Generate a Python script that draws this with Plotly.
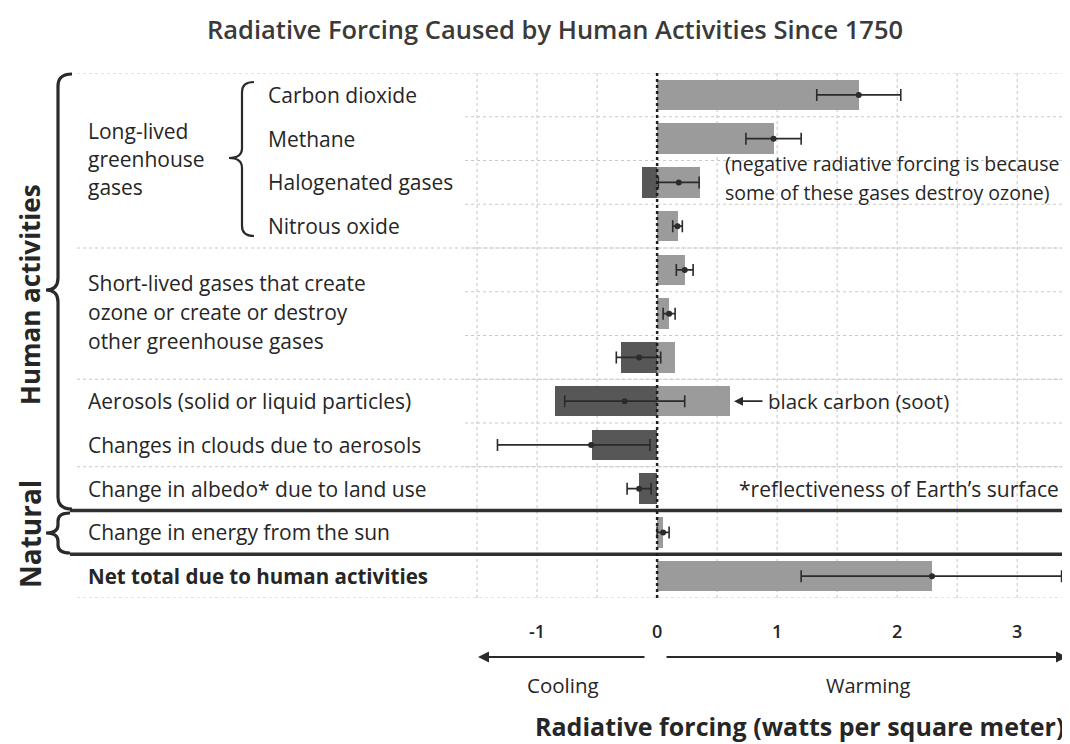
import plotly.graph_objects as go

# ---------------- data ----------------
row_names = ["Carbon dioxide", "Methane", "Halogenated gases", "Nitrous oxide",
             "Short-lived gases 1", "Short-lived gases 2", "Short-lived gases 3",
             "Aerosols (solid or liquid particles)", "Changes in clouds due to aerosols",
             "Change in albedo* due to land use", "Change in energy from the sun",
             "Net total due to human activities"]
warming_part = [1.68, 0.97, 0.36, 0.17, 0.23, 0.10, 0.15, 0.61, 0.0, 0.0, 0.05, 2.29]
cooling_part = [0.0, 0.0, -0.13, 0.0, 0.0, 0.0, -0.30, -0.85, -0.54, -0.15, 0.0, 0.0]
best_estimate = [1.68, 0.97, 0.18, 0.17, 0.23, 0.10, -0.15, -0.27, -0.55, -0.15, 0.05, 2.29]
range_low = [1.33, 0.74, 0.01, 0.13, 0.16, 0.05, -0.34, -0.77, -1.33, -0.25, 0.00, 1.20]
range_high = [2.03, 1.20, 0.35, 0.21, 0.30, 0.15, 0.03, 0.23, -0.06, -0.05, 0.10, 3.37]
tick_values = [-1, 0, 1, 2, 3]
tick_labels = ["-1", "0", "1", "2", "3"]
grid_values = [-1.5, -1.0, -0.5, 0.5, 1.0, 1.5, 2.0, 2.5, 3.0]

# ---------------- layout helpers ----------------
# page body has an 8px margin, so the figure is drawn 8px smaller
OFF = 8
SW, SH = 1070, 744            # screen size
W, H = SW - OFF, SH - OFF     # figure size
L, R, T, B = 75, 1070, 73, 598  # plot area in screen pixels
FONT = "Open Sans"
TXT = "#262626"
LS = 21   # label font size


def px(x):
    return (x - L) / (R - L)


def py(y):
    return (B - y) / (B - T)


rows = list(range(len(row_names)))
err_plus = [h - b for h, b in zip(range_high, best_estimate)]
err_minus = [b - l for l, b in zip(range_low, best_estimate)]

fig = go.Figure()
fig.add_trace(go.Bar(y=rows, x=warming_part, orientation="h", width=0.7,
                     marker=dict(color="#9b9b9b", line=dict(width=0)),
                     name="warming", showlegend=False))
fig.add_trace(go.Bar(y=rows, x=cooling_part, orientation="h", width=0.7,
                     marker=dict(color="#575757", line=dict(width=0)),
                     name="cooling", showlegend=False))
fig.add_trace(go.Scatter(y=rows, x=best_estimate, mode="markers",
                         marker=dict(color="#2b2b2b", size=6),
                         error_x=dict(type="data", symmetric=False, array=err_plus,
                                      arrayminus=err_minus, color="#2b2b2b",
                                      thickness=1.6, width=6),
                         showlegend=False))

shapes = []
for v in grid_values:
    shapes.append(dict(type="line", xref="x", yref="y", x0=v, x1=v, y0=-0.5, y1=11.5,
                       line=dict(color="#c4c4c4", width=1, dash="dot"), layer="below"))
for i in range(len(rows) - 1):
    if i + 0.5 in (9.5, 10.5):
        continue
    shapes.append(dict(type="line", xref="x", yref="y", x0=-1.6, x1=3.44, y0=i + 0.5, y1=i + 0.5,
                       line=dict(color="#c8c8c8", width=1, dash="dot"), layer="below"))
for yb in (-0.5, 3.5, 6.5, 8.5, 11.5):
    shapes.append(dict(type="line", xref="paper", yref="y", x0=px(77), x1=px(1070), y0=yb, y1=yb,
                       line=dict(color="#c8c8c8", width=1, dash="dot"), layer="below"))
for yb in (9.5, 10.5):
    shapes.append(dict(type="line", xref="paper", yref="y", x0=px(70), x1=px(1070), y0=yb, y1=yb,
                       line=dict(color="#303030", width=3.5), layer="above"))
shapes.append(dict(type="line", xref="x", yref="y", x0=0, x1=0, y0=-0.5, y1=11.65,
                   line=dict(color="#1e1e1e", width=2.5, dash="dot"), layer="above"))


def brace(x_end, x_v, x_pt, y_top, y_mid, y_bot, r=10):
    return (f"M {px(x_end)},{py(y_top)} Q {px(x_v)},{py(y_top)} {px(x_v)},{py(y_top + r)} "
            f"L {px(x_v)},{py(y_mid - r)} Q {px(x_v)},{py(y_mid)} {px(x_pt)},{py(y_mid)} "
            f"Q {px(x_v)},{py(y_mid)} {px(x_v)},{py(y_mid + r)} "
            f"L {px(x_v)},{py(y_bot - r)} Q {px(x_v)},{py(y_bot)} {px(x_end)},{py(y_bot)}")


shapes.append(dict(type="path", xref="paper", yref="paper",
                   path=brace(72, 58, 46, 74, 290, 509, r=12),
                   line=dict(color="#2a2a2a", width=3.2)))
shapes.append(dict(type="path", xref="paper", yref="paper",
                   path=brace(70, 58, 46, 513, 533, 553, r=8),
                   line=dict(color="#2a2a2a", width=3.2)))
shapes.append(dict(type="path", xref="paper", yref="paper",
                   path=brace(254, 242, 229, 82, 158, 236, r=10),
                   line=dict(color="#2a2a2a", width=2.2)))

ann = []


def label(text, x, yrow, yshift=0, size=LS, bold=False, anchor="left"):
    ann.append(dict(text=f"<b>{text}</b>" if bold else text, xref="paper", yref="y",
                    x=px(x), y=yrow, yshift=yshift, xanchor=anchor, yanchor="middle",
                    showarrow=False, font=dict(family=FONT, size=size, color=TXT)))


for i in range(4):
    label(row_names[i], 266, rows[i])
for j, t in enumerate(["Long-lived", "greenhouse", "gases"]):
    label(t, 86, 1.5, yshift=30 - 28 * j)
for j, t in enumerate(["Short-lived gases that create", "ozone or create or destroy",
                       "other greenhouse gases"]):
    label(t, 86, 5, yshift=31 - 29 * j)
for i in range(7, 11):
    label(row_names[i], 86, rows[i])
label(row_names[11], 86, rows[11], bold=True, size=20.5)

label("(negative radiative forcing is because", 723, 2, yshift=19, size=19.5)
label("some of these gases destroy ozone)", 723, 2, yshift=-10, size=19.5)
label("black carbon (soot)", 766, 7, size=20.5)
label("*reflectiveness of Earth\u2019s surface", 737, 9, size=21)
ann.append(dict(xref="paper", yref="y", x=px(734), y=7, ax=30, ay=0, text="",
                showarrow=True, arrowhead=2, arrowsize=1, arrowwidth=1.8, arrowcolor="#2a2a2a"))

ann.append(dict(text="<b>Human activities</b>", xref="paper", yref="paper", x=px(30), y=py(295),
                textangle=-90, showarrow=False, xanchor="center", yanchor="middle",
                font=dict(family=FONT, size=26, color=TXT)))
ann.append(dict(text="<b>Natural</b>", xref="paper", yref="paper", x=px(30), y=py(534),
                textangle=-90, showarrow=False, xanchor="center", yanchor="middle",
                font=dict(family=FONT, size=28, color=TXT)))

for v, t in zip(tick_values, tick_labels):
    ann.append(dict(text=t, xref="x", yref="paper", x=v, y=py(631), showarrow=False,
                    xanchor="center", yanchor="middle",
                    font=dict(family=FONT, size=18, color=TXT, weight=600)))

ann.append(dict(xref="paper", yref="paper", x=px(478), y=py(657), ax=168, ay=0, text="",
                showarrow=True, arrowhead=2, arrowsize=1.1, arrowwidth=2, arrowcolor="#2a2a2a"))
ann.append(dict(xref="paper", yref="paper", x=px(1067), y=py(657), ax=-402, ay=0, text="",
                showarrow=True, arrowhead=2, arrowsize=1.1, arrowwidth=2, arrowcolor="#2a2a2a"))
ann.append(dict(text="Cooling", xref="paper", yref="paper", x=px(563), y=py(685), showarrow=False,
                xanchor="center", yanchor="middle", font=dict(family=FONT, size=20.5, color=TXT)))
ann.append(dict(text="Warming", xref="paper", yref="paper", x=px(868), y=py(685), showarrow=False,
                xanchor="center", yanchor="middle", font=dict(family=FONT, size=20, color=TXT)))
ann.append(dict(text="<b>Radiative forcing (watts per square meter)</b>", xref="paper", yref="paper",
                x=px(799), y=py(726), showarrow=False, xanchor="center", yanchor="middle",
                font=dict(family=FONT, size=25, color=TXT)))

fig.update_layout(
    width=W, height=H,
    margin=dict(l=L - OFF, r=SW - R, t=T - OFF, b=SH - B, pad=0),
    paper_bgcolor="white", plot_bgcolor="white",
    barmode="overlay", bargap=0,
    title=dict(text="Radiative Forcing Caused by Human Activities Since 1750",
               x=px(555), xref="paper", xanchor="center", y=1 - (30 - OFF) / H, yanchor="middle",
               font=dict(family=FONT, size=25.5, color="#3a3a3a", weight=600)),
    xaxis=dict(range=[-4.85, 3.44], showgrid=False, zeroline=False, showticklabels=False,
               showline=False, ticks="", fixedrange=True),
    yaxis=dict(range=[11.5, -0.5], showgrid=False, zeroline=False, showticklabels=False,
               showline=False, ticks="", fixedrange=True),
    shapes=shapes, annotations=ann, showlegend=False,
)

fig.write_html("out.html")
